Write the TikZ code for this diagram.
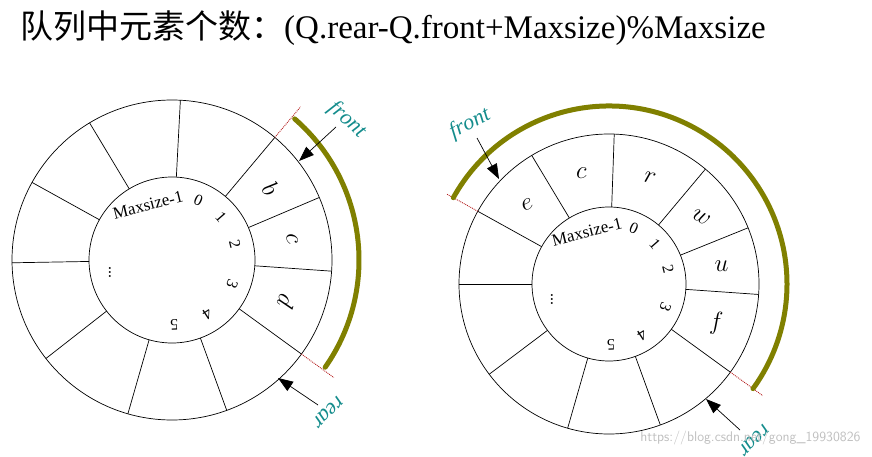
\documentclass[tikz,border=0pt]{standalone}
\usepackage{fontspec}
\setmainfont{Liberation Serif}
\newfontfamily\cjk{Noto Sans CJK SC}
\usetikzlibrary{calc,arrows.meta}
\definecolor{olv}{RGB}{128,128,0}
\definecolor{tealx}{RGB}{20,140,140}
\definecolor{dred}{RGB}{180,30,30}
\begin{document}
\begin{tikzpicture}[x=1pt,y=1pt,
  ringline/.style={line width=0.7pt},
  band/.style={olv,line width=5pt,line cap=round},
  cut/.style={dred,densely dotted,line width=0.9pt},
  lbl/.style={font=\fontsize{22}{24}\selectfont,tealx},
  val/.style={font=\fontsize{24}{26}\selectfont},
  idx/.style={font=\fontsize{16}{17}\selectfont},
  ptr/.style={-{Triangle[length=15pt,width=11pt]},line width=0.7pt}]
\useasboundingbox (0,0) rectangle (872,-457);
\node[anchor=west,inner sep=0] (title) at (20,-28) {\fontsize{33}{36}\selectfont{\cjk 队列中元素个数：}(Q.rear-Q.front+Maxsize)\%Maxsize};
% ---------- left ring ----------
\coordinate (L) at (172,-260);
\draw[ringline] (L) circle (160pt);
\draw[ringline] (L) circle (83pt);
\foreach \a in {87,50,23,-4,-36,-70,-106,-142,-179,151,121}
  \draw[ringline] ($(L)+(\a:83pt)$) -- ($(L)+(\a:160pt)$);
\node[val,rotate=-54] (lb) at ($(L)+(36:122pt)$) {$b$};
\node[val,rotate=-80] (lc) at ($(L)+(10:122pt)$) {$c$};
\node[val,rotate=-110] (ld) at ($(L)+(-20:122pt)$) {$d$};
\foreach \a/\t in {66/0,41/1,14/2,-22/3,-57/4,-88/5}
  \node[idx,rotate=\a-90] at ($(L)+(\a:65pt)$) {\t};
\node[idx,font=\fontsize{17}{18}\selectfont,rotate=14] (lmax) at ($(L)+(-24,55)$) {Maxsize-1};
\node[idx,rotate=90] (ldots) at ($(L)+(-62,-12)$) {...};
\draw[cut] ($(L)+(50:160pt)$) -- ($(L)+(50:200pt)$);
\draw[cut] ($(L)+(-36:160pt)$) -- ($(L)+(-36:200pt)$);
\draw[band] ($(L)+(49:187pt)$) arc (49:-35:187pt);
\node[lbl,rotate=-42] (lfront) at (347,-120) {$\mathit{front}$};
\coordinate (lfs) at (336,-127);
\coordinate (lft) at (299,-161);
\draw[ptr] (lfs) -- (lft);
\node[lbl,rotate=-135] (lrear) at (328,-412) {$\mathit{rear}$};
\coordinate (lrs) at (318,-405);
\coordinate (lrt) at (278,-378);
\draw[ptr] (lrs) -- (lrt);
% ---------- right ring ----------
\coordinate (R) at (609,-284);
\draw[ringline] (R) circle (150pt);
\draw[ringline] (R) circle (77pt);
\foreach \a in {88,50,22,-4,-36,-70,-106,-143,180,151,121}
  \draw[ringline] ($(R)+(\a:77pt)$) -- ($(R)+(\a:150pt)$);
\node[val,rotate=20] (re) at ($(R)+(136:114pt)$) {$e$};
\node[val] (rc) at ($(R)+(104:114pt)$) {$c$};
\node[val,rotate=-15] (rr) at ($(R)+(69:114pt)$) {$r$};
\node[val,rotate=-30] (rw) at ($(R)+(36:114pt)$) {$w$};
\node[val] (ru) at ($(R)+(9:114pt)$) {$u$};
\node[val] (rf) at ($(R)+(-20:114pt)$) {$f$};
\foreach \a/\t in {66/0,41/1,14/2,-22/3,-57/4,-88/5}
  \node[idx,rotate=\a-90] at ($(R)+(\a:61pt)$) {\t};
\node[idx,font=\fontsize{17}{18}\selectfont,rotate=14] (rmax) at ($(R)+(-22,52)$) {Maxsize-1};
\node[idx,rotate=90] (rdots) at ($(R)+(-57,-15)$) {...};
\draw[cut] ($(R)+(151:150pt)$) -- ($(R)+(151:186pt)$);
\draw[cut] ($(R)+(-36:150pt)$) -- ($(R)+(-36:190pt)$);
\draw[band] ($(R)+(151:178pt)$) arc (151:-36:178pt);
\node[lbl,rotate=27] (rfront) at (470,-124) {$\mathit{front}$};
\coordinate (rfs) at (477,-138);
\coordinate (rft) at (499,-179);
\draw[ptr] (rfs) -- (rft);
\node[lbl,rotate=-135] (rrear) at (754,-440) {$\mathit{rear}$};
\coordinate (rrs) at (740,-430);
\coordinate (rrt) at (706,-399);
\draw[ptr] (rrs) -- (rrt);
\node[font=\fontsize{14}{15}\sffamily\selectfont,black!25,anchor=east] (wm) at (864,-438) {https://blog.csdn.net/gong\_19930826};
\end{tikzpicture}
\end{document}
